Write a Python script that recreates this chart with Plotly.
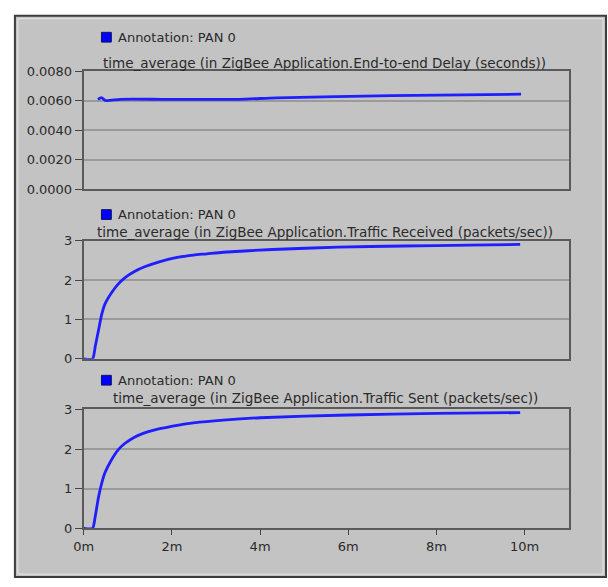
import plotly.graph_objects as go

W, H = 608, 587

# ---- data (time in minutes) ----
delay_t = [0.32, 0.40, 0.49, 0.83, 1.79, 3.52, 4.38, 6.98, 9.92]
delay_v = [0.0061, 0.00622, 0.00602, 0.0061, 0.0061, 0.0061, 0.0062, 0.00635, 0.00645]

recv_t = [0.0, 0.2, 0.26, 0.335, 0.41, 0.48, 0.63, 0.78, 0.93, 1.15, 1.38, 1.75, 2.12, 2.49,
          2.79, 3.16, 4.28, 5.77, 7.25, 8.74, 9.9]
recv_v = [0.0, 0.0, 0.31, 0.73, 1.14, 1.39, 1.68, 1.9, 2.06, 2.22, 2.34, 2.48, 2.58, 2.64,
          2.67, 2.71, 2.78, 2.84, 2.87, 2.89, 2.91]

sent_t = [0.0, 0.2, 0.26, 0.335, 0.41, 0.48, 0.63, 0.78, 0.93, 1.15, 1.38, 1.75, 2.12, 2.49,
          3.16, 4.0, 6.0, 8.0, 9.9]
sent_v = [0.0, 0.0, 0.3, 0.79, 1.15, 1.4, 1.73, 1.98, 2.14, 2.3, 2.41, 2.52, 2.6, 2.66,
          2.73, 2.79, 2.86, 2.9, 2.92]

x_tickvals = [0, 2, 4, 6, 8, 10]
x_ticktext = ["0m", "2m", "4m", "6m", "8m", "10m"]
delay_ticks = [0.0, 0.002, 0.004, 0.006, 0.008]
delay_ticktext = ["0.0000", "0.0020", "0.0040", "0.0060", "0.0080"]
traffic_ticks = [0, 1, 2, 3]

legend_label = "Annotation: PAN 0"
titles = [
    "time_average (in ZigBee Application.End-to-end Delay (seconds))",
    "time_average (in ZigBee Application.Traffic Received (packets/sec))",
    "time_average (in ZigBee Application.Traffic Sent (packets/sec))",
]

LINE = "#1e1eff"
FONT = "DejaVu Sans, Verdana, sans-serif"
TXT = "#2a2a2a"

def px_x(p):
    return p / W

def px_y(p):
    return 1 - p / H

# panel geometry (pixels)
xl, xr = 75, 568
panels = [(66, 187), (240, 361), (413, 535)]
legend_y = [31, 213, 383]
title_y = [57, 231, 401]
title_x = [320, 320, 321]

fig = go.Figure()
series = [(delay_t, delay_v), (recv_t, recv_v), (sent_t, sent_v)]
for i, (t, v) in enumerate(series):
    sfx = "" if i == 0 else str(i + 1)
    fig.add_trace(go.Scatter(x=t, y=v, mode="lines",
                             line=dict(color=LINE, width=2.8, shape="spline", smoothing=0.6),
                             xaxis="x" + sfx, yaxis="y" + sfx, showlegend=False,
                             hoverinfo="skip"))

layout = dict(
    width=W, height=H, margin=dict(l=0, r=0, t=0, b=0),
    paper_bgcolor="white", plot_bgcolor="#f0f0f0",
    font=dict(family=FONT, size=13, color=TXT),
    showlegend=False,
)
for i, (top, bot) in enumerate(panels):
    sfx = "" if i == 0 else str(i + 1)
    xa = dict(domain=[px_x(xl), px_x(xr)], range=[0, 11], anchor="y" + sfx,
              showgrid=False, zeroline=False, showline=True, linecolor="#5a5a5a",
              linewidth=2, mirror=True, ticks="outside", ticklen=5, tickcolor="#444",
              tickvals=x_tickvals, ticktext=x_ticktext if i == 2 else [""] * 6,
              tickfont=dict(size=13, color=TXT), fixedrange=True)
    if i < 2:
        xa["ticks"] = ""
    ya = dict(domain=[px_y(bot), px_y(top)], anchor="x" + sfx,
              showgrid=True, gridcolor="#9a9a9a", gridwidth=1.5, zeroline=False,
              showline=True, linecolor="#5a5a5a", linewidth=2, mirror=True,
              ticks="outside", ticklen=7, tickcolor="#444",
              tickfont=dict(size=13, color=TXT), fixedrange=True)
    if i == 0:
        ya.update(range=[0, 0.008], tickvals=delay_ticks, ticktext=delay_ticktext)
    else:
        ya.update(range=[0, 3], tickvals=traffic_ticks, ticktext=[str(v) for v in traffic_ticks])
    layout["xaxis" + sfx] = xa
    layout["yaxis" + sfx] = ya

shapes = [
    # outer grey frame
    dict(type="rect", xref="paper", yref="paper", x0=px_x(5), x1=px_x(606),
         y0=px_y(585), y1=px_y(9), fillcolor="#c3c3c3",
         line=dict(color="#3c3c3c", width=2), layer="below"),
    dict(type="rect", xref="paper", yref="paper", x0=px_x(8), x1=px_x(603),
         y0=px_y(582), y1=px_y(12), fillcolor="rgba(0,0,0,0)",
         line=dict(color="#e6e6e6", width=1), layer="below"),
]
annotations = []
for i in range(3):
    ly = legend_y[i]
    shapes.append(dict(type="rect", xref="paper", yref="paper",
                       x0=px_x(93), x1=px_x(103), y0=px_y(ly + 5), y1=px_y(ly - 5),
                       fillcolor="#0000ff", line=dict(color="#101060", width=1)))
    annotations.append(dict(text=legend_label, xref="paper", yref="paper",
                            x=px_x(108), y=px_y(ly), xanchor="left", yanchor="middle",
                            showarrow=False, font=dict(size=13, color=TXT)))
    annotations.append(dict(text=titles[i], xref="paper", yref="paper",
                            x=px_x(title_x[i]), y=px_y(title_y[i]), xanchor="center",
                            yanchor="middle", showarrow=False, font=dict(size=13.5, color=TXT)))

layout["shapes"] = shapes
layout["annotations"] = annotations
fig.update_layout(**layout)
fig.write_html("out.html")
